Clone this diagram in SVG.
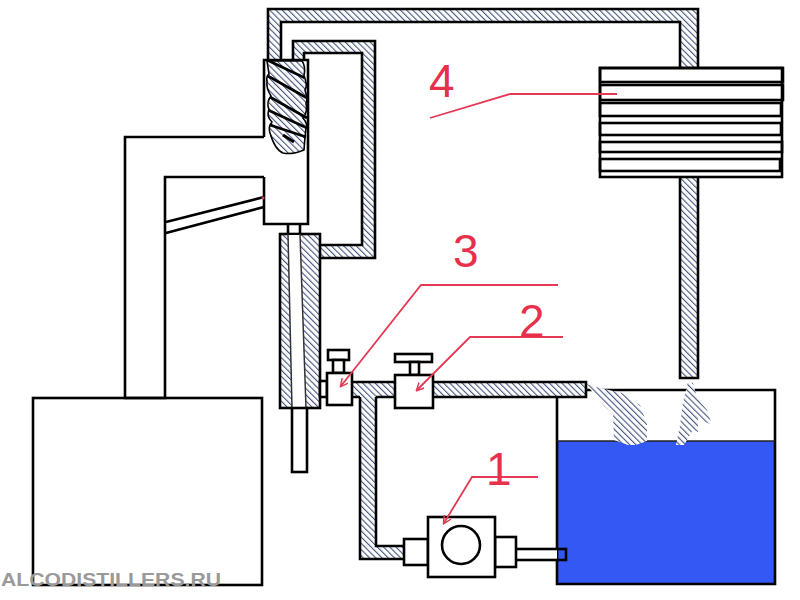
<svg xmlns="http://www.w3.org/2000/svg" width="800" height="600" viewBox="0 0 800 600">
<style>
.k{fill:none;stroke:#000;stroke-width:2.6}
.w{fill:#fff;stroke:#000;stroke-width:2.6}
.h{fill:url(#hatch);stroke:none}
.hk{fill:url(#hatch);stroke:#000;stroke-width:2.6}
.t{fill:none;stroke:#333;stroke-width:1.5}
.r{fill:none;stroke:#e43a55;stroke-width:1.8}
.n{font-family:"Liberation Sans",Arial,sans-serif;font-size:46px;fill:#e8304c}
</style>
<defs>
<pattern id="hatch" width="4.4" height="4.4" patternUnits="userSpaceOnUse" patternTransform="rotate(45)">
<rect width="4.4" height="4.4" fill="#fff"/>
<line x1="0" y1="1.2" x2="4.4" y2="1.2" stroke="#46557f" stroke-width="1.1"/>
</pattern>
<marker id="tip" markerWidth="9" markerHeight="9" refX="7" refY="4" orient="auto" markerUnits="userSpaceOnUse">
<path d="M0 0L8 4L0 8" fill="none" stroke="#e43a55" stroke-width="1.5"/>
</marker>
</defs>
<rect width="800" height="600" fill="#fff"/>
<g id="connectors">
<path class="h" d="M268 60V9H698V68H680V22H281V60Z"/>
<path class="k" d="M268 60V9H698V68M680 68V22H281V60"/>
<path class="h" d="M293 60V41H375V258H320V245H362V53H304V60Z"/>
<path class="k" d="M293 60V41H375V258H320M320 245H362V53H304V60"/>
<path class="h" d="M680 177H698V378H680Z"/>
<path class="k" d="M680 177V378H698V177"/>
<path class="h" d="M351 382H395V397H376V546H404V559H360V397H351Z"/>
<path class="k" d="M351 382H395M376 397H395M376 397V546H404M360 397V559H404M351 397H360"/>
</g>
<g id="tank">
<rect x="557" y="441" width="218" height="143" fill="#3358f4"/>
<path class="k" d="M557 584V390H775V584Z"/>
<path d="M557 441H775" stroke="#222" stroke-width="1.5"/>
<path class="h" d="M586 384L600 388L622 393L640 405L647 424L647 441L636 445L628 445L614 440L613 414L604 406Z"/>
<path class="h" d="M688 382L693 383L697 398L707 410L712 425L703 421L698 415L698 432L693 430L684 445L676 445L680 425L683 402Z"/>
<path class="h" d="M433 382H586V397H433Z"/>
<path class="k" d="M433 382H586V397H433"/>
</g>
<g id="boiler"><rect class="w" x="33" y="398" width="229" height="187"/></g>
<g id="column">
<path class="k" d="M264 137H125V398H165V177H264"/>
<path class="k" d="M166 222L264 197M166 233L264 207"/>
<path fill="#fff" stroke="none" d="M265 61H307V224H265Z"/>
<path class="k" d="M264 137V60H308V224H264V177"/>
<path class="hk" stroke-linejoin="round" d="M267 61H302Q306 66 304 76Q308 85 305 90Q308 100 306 103Q308 112 303 118Q308 124 306 128L305 137L304 150Q292 155 283 153Q275 150 270 133Q268 126 272 122Q266 116 269 110Q266 102 271 96Q266 88 267 82Q266 76 269 74Z" style="stroke-width:1.6"/>
<path class="k" d="M267 60L305 78M268 76L307 98M270 97L307 118M268 110L307 128M270 125L306 137"/>
<path d="M283 135L294 142" stroke="#000" stroke-width="3"/>
<circle cx="263" cy="198" r="1.5" fill="#e43a55"/>
</g>
<g id="condenser">
<rect class="hk" x="280" y="234" width="40" height="174"/>
<path fill="#fff" d="M288 235H300L306 407H292Z"/>
<path class="k" d="M288 225V234M300 225V234"/>
<path class="t" d="M288 234L292 408M300 234L306 408"/>
<rect class="w" x="292" y="408" width="15" height="64"/>
</g>
<g id="valve3">
<rect class="w" x="320" y="381" width="7" height="16"/>
<rect class="w" x="328" y="350" width="21" height="10"/>
<rect class="w" x="333" y="360" width="11" height="13"/>
<rect class="w" x="327" y="373" width="25" height="32"/>
</g>
<g id="valve2">
<rect class="w" x="395" y="354" width="37" height="8"/>
<rect class="w" x="410" y="362" width="9" height="13"/>
<rect class="w" x="395" y="375" width="38" height="33"/>
</g>
<g id="pump">
<rect x="515" y="549" width="42" height="11" fill="#fff"/>
<rect class="k" x="515" y="549" width="51" height="11"/>
<rect class="w" x="404" y="539" width="24" height="26"/>
<rect class="w" x="495" y="537" width="21" height="30"/>
<rect class="w" x="428" y="517" width="67" height="60"/>
<circle class="w" cx="461" cy="545" r="19"/>
</g>
<g id="radiator">
<rect class="w" x="600" y="68" width="182" height="109"/>
<rect class="k" x="600" y="68" width="183" height="14"/>
<rect class="k" x="600" y="85" width="183" height="15"/>
<rect class="k" x="600" y="103" width="181" height="13"/>
<rect class="k" x="600" y="123" width="181" height="12"/>
<rect class="k" x="600" y="142" width="182" height="10"/>
<rect class="k" x="600" y="159" width="180" height="12"/>
</g>
<g id="callouts">
<path class="r" d="M430 118L510 94H617"/>
<path class="r" d="M558 285H421L341 386" marker-end="url(#tip)"/>
<path class="r" d="M563 337H470L417 390" marker-end="url(#tip)"/>
<path class="r" d="M538 477H472L444 523" marker-end="url(#tip)"/>
<text class="n" x="429" y="97">4</text>
<text class="n" x="453" y="267">3</text>
<text class="n" x="519" y="337">2</text>
<text class="n" x="486" y="485">1</text>
</g>
<text id="watermark" x="1" y="586" font-family="'Liberation Sans',Arial,sans-serif" font-size="19" font-weight="bold" fill="#999" textLength="220" lengthAdjust="spacingAndGlyphs">ALCODISTILLERS.RU</text>
</svg>
